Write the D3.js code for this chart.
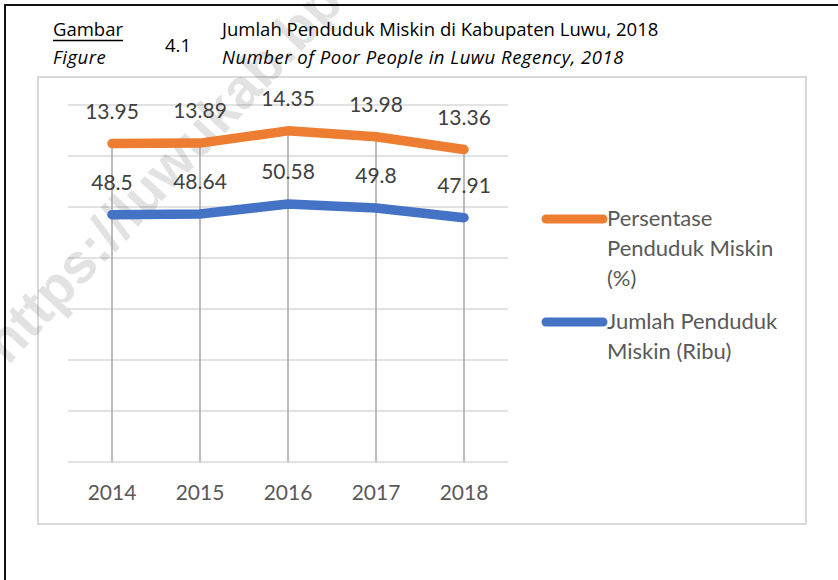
<!DOCTYPE html>
<html>
<head>
<meta charset="utf-8">
<script src="https://cdn.jsdelivr.net/npm/d3@7"></script>
<style>
  body { margin: 0; background: #fff; }
  svg text { font-family: Lato, "Open Sans", sans-serif; }
</style>
</head>
<body>
<div id="plot"></div>
<script>
// data
var years = ["2014", "2015", "2016", "2017", "2018"];
var persen = [13.95, 13.89, 14.35, 13.98, 13.36];   // Persentase Penduduk Miskin (%)
var jumlah = [48.5, 48.64, 50.58, 49.8, 47.91];     // Jumlah Penduduk Miskin (Ribu)
var gridTicks = [0, 10, 20, 30, 40, 50, 60, 70];

var colors = {jumlah: "#4472C4", persen: "#ED7D31"};

var W = 838, H = 580;
var plot = {left: 68, right: 508, top: 105, bottom: 462};

var svg = d3.select("#plot").append("svg")
  .attr("width", W).attr("height", H);

// page frame (left + top rule)
svg.append("line").attr("x1", 5).attr("x2", 5).attr("y1", 4).attr("y2", H)
  .attr("stroke", "#111").attr("stroke-width", 2);
svg.append("line").attr("x1", 4).attr("x2", W).attr("y1", 5).attr("y2", 5)
  .attr("stroke", "#111").attr("stroke-width", 2);

// figure heading
var head = svg.append("g").style("fill", "#000");
var hfont = "'Open Sans', sans-serif";
var gambar = head.append("text").attr("x", 53).attr("y", 36)
  .style("font-family", hfont).style("font-size", "18.5px").text("Gambar");
head.append("line").attr("x1", 53).attr("x2", 53 + gambar.node().getComputedTextLength())
  .attr("y1", 40.5).attr("y2", 40.5)
  .attr("stroke", "#000").attr("stroke-width", 1.3);
head.append("text").attr("x", 53).attr("y", 64).style("font-family", hfont).style("font-size", "18.5px")
  .style("font-style", "italic").style("letter-spacing", "0.5px").text("Figure");
head.append("text").attr("x", 165).attr("y", 52).style("font-family", hfont).style("font-size", "18.5px").text("4.1");
head.append("text").attr("x", 222).attr("y", 36).style("font-family", hfont).style("font-size", "18.5px")
  .text("Jumlah Penduduk Miskin di Kabupaten Luwu, 2018");
head.append("text").attr("x", 222).attr("y", 64).style("font-family", hfont).style("font-size", "18.5px")
  .style("font-style", "italic").style("letter-spacing", "0.5px")
  .text("Number of Poor People in Luwu Regency, 2018");

// chart area border
svg.append("rect").attr("x", 38).attr("y", 77).attr("width", 768).attr("height", 447)
  .attr("fill", "none").attr("stroke", "#d9d9d9").attr("stroke-width", 2);

// scales
var x = d3.scaleBand().domain(years).range([plot.left, plot.right]);
var cx = function(d) { return x(d) + x.bandwidth() / 2; };
var y = d3.scaleLinear().domain([0, 70]).range([plot.bottom, plot.top]);

// stacked line: percentage sits on top of the count
var rows = years.map(function(d, i) { return {year: d, jumlah: jumlah[i], persen: persen[i]}; });
var stacked = d3.stack().keys(["jumlah", "persen"])(rows);

// gridlines
svg.append("g").selectAll("line").data(gridTicks).enter().append("line")
  .attr("x1", plot.left).attr("x2", plot.right)
  .attr("y1", function(d) { return y(d); }).attr("y2", function(d) { return y(d); })
  .attr("stroke", "#d9d9d9").attr("stroke-width", 1.3);

// watermark (behind the series)
svg.append("text")
  .attr("transform", "translate(8,366) rotate(-47)")
  .style("font-family", "'Liberation Sans', Arial, sans-serif")
  .style("font-size", "56px").style("font-weight", "bold")
  .style("fill", "#000").style("opacity", 0.11)
  .text("https://luwukab.bps.go.id");

// drop lines from the top series to the axis
var topSeries = stacked[stacked.length - 1];
svg.append("g").selectAll("line").data(topSeries).enter().append("line")
  .attr("x1", function(d) { return cx(d.data.year); })
  .attr("x2", function(d) { return cx(d.data.year); })
  .attr("y1", function(d) { return y(d[1]); })
  .attr("y2", y(0))
  .attr("stroke", "#a6a6a6").attr("stroke-width", 1.5);

var line = d3.line()
  .x(function(d) { return cx(d.data.year); })
  .y(function(d) { return y(d[1]); });

svg.append("g").selectAll("path").data(stacked).enter().append("path")
  .attr("d", line)
  .attr("fill", "none")
  .attr("stroke", function(s) { return colors[s.key]; })
  .attr("stroke-width", 9.5)
  .attr("stroke-linecap", "round")
  .attr("stroke-linejoin", "round");

// data labels (own value, above the point)
stacked.forEach(function(s) {
  svg.append("g").selectAll("text").data(s).enter().append("text")
    .attr("x", function(d) { return cx(d.data.year); })
    .attr("y", function(d) { return y(d[1]) - 25; })
    .attr("text-anchor", "middle")
    .style("font-size", "21px")
    .style("fill", "#404040")
    .text(function(d) { return d.data[s.key]; });
});

// category axis labels
svg.append("g").selectAll("text").data(years).enter().append("text")
  .attr("x", cx).attr("y", 500)
  .attr("text-anchor", "middle")
  .style("font-size", "21px").style("fill", "#595959")
  .text(function(d) { return d; });

// legend
var legend = [
  {key: "persen", lines: ["Persentase", "Penduduk Miskin", "(%)"], y: 219},
  {key: "jumlah", lines: ["Jumlah Penduduk", "Miskin (Ribu)"], y: 322}
];
var lg = svg.append("g").selectAll("g").data(legend).enter().append("g");
lg.append("line")
  .attr("x1", 546).attr("x2", 603)
  .attr("y1", function(d) { return d.y; }).attr("y2", function(d) { return d.y; })
  .attr("stroke", function(d) { return colors[d.key]; })
  .attr("stroke-width", 9).attr("stroke-linecap", "round");
lg.each(function(d) {
  var t = d3.select(this).append("text").attr("x", 607).attr("y", d.y + 7)
    .style("font-size", "22px").style("fill", "#595959");
  d.lines.forEach(function(l, i) {
    t.append("tspan").attr("x", 607).attr("dy", i ? 30 : 0).text(l);
  });
});
</script>
</body>
</html>
